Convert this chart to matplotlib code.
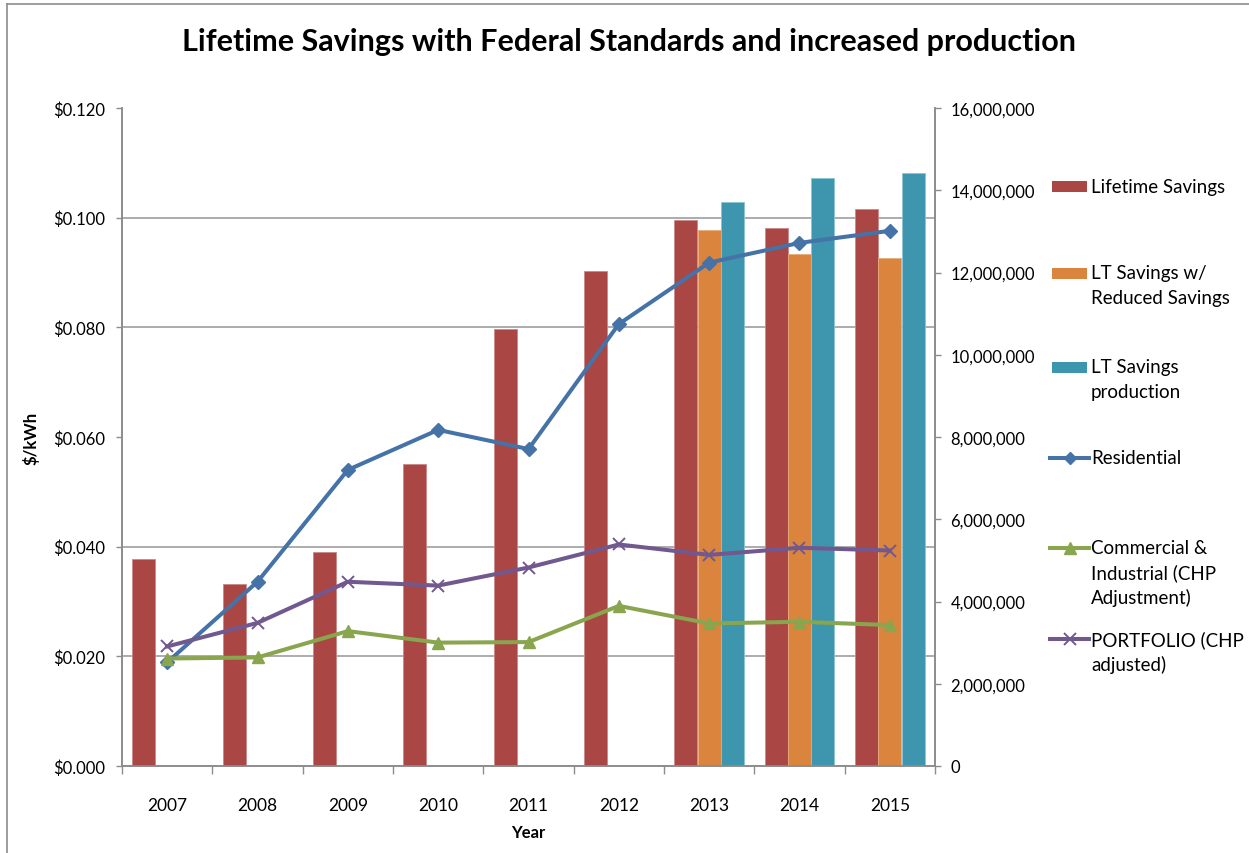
import numpy as np
import matplotlib
matplotlib.use("Agg")
import matplotlib.pyplot as plt
from matplotlib.ticker import FuncFormatter, FixedLocator, MultipleLocator
from matplotlib.lines import Line2D
from matplotlib.patches import Rectangle

# ---------------- data ----------------
years = ["2007", "2008", "2009", "2010", "2011", "2012", "2013", "2014", "2015"]
lifetime_savings = [5.03e6, 4.43e6, 5.20e6, 7.34e6, 10.63e6, 12.04e6, 13.27e6, 13.07e6, 13.54e6]
lt_reduced = [np.nan, np.nan, np.nan, np.nan, np.nan, np.nan, 13.03e6, 12.46e6, 12.35e6]
lt_production = [np.nan, np.nan, np.nan, np.nan, np.nan, np.nan, 13.71e6, 14.29e6, 14.42e6]
residential = [0.0189, 0.0336, 0.0540, 0.0613, 0.0578, 0.0806, 0.0918, 0.0954, 0.0976]
commercial = [0.0196, 0.0198, 0.0246, 0.0225, 0.0226, 0.0292, 0.0260, 0.0263, 0.0257]
portfolio = [0.0218, 0.0261, 0.0336, 0.0329, 0.0362, 0.0404, 0.0385, 0.0398, 0.0393]

C_RED = "#AA4643"
C_ORANGE = "#DB843D"
C_TEAL = "#3D96AE"
C_BLUE = "#4572A7"
C_GREEN = "#89A54E"
C_PURPLE = "#71588F"
GRAY = "#8c8c8c"

plt.rcParams["font.family"] = ["Lato", "DejaVu Sans"]

W, H = 1249, 854
fig = plt.figure(figsize=(W / 100, H / 100), dpi=100)

def fx(px):
    return px / W

def fy(py):
    return 1 - py / H

ax = fig.add_axes([fx(122), fy(767), fx(935) - fx(122), fy(109) - fy(767)])
ax2 = ax.twinx()

x = np.arange(len(years))
bw = 0.255
off = 0.257
ax.bar(x - off, lifetime_savings, bw, color=C_RED, edgecolor="#c98a88", linewidth=0.6, zorder=3)
ax.bar(x, lt_reduced, bw, color=C_ORANGE, edgecolor="#e8ad7c", linewidth=0.6, zorder=3)
ax.bar(x + off, lt_production, bw, color=C_TEAL, edgecolor="#8cc4d3", linewidth=0.6, zorder=3)

ax.set_ylim(0, 16e6)
ax.set_xlim(-0.5, len(years) - 0.5)
ax.yaxis.tick_right()
ax.yaxis.set_major_locator(MultipleLocator(2e6))
ax.yaxis.set_major_formatter(FuncFormatter(lambda v, p: f"{v:,.0f}"))
# gridlines aligned with the left-axis ticks
ax.yaxis.set_minor_locator(FixedLocator(np.linspace(0, 16e6, 7)))
ax.grid(axis="y", which="minor", color="#a6a6a6", linewidth=1.3, zorder=0)
ax.tick_params(axis="y", which="minor", length=0)
ax.tick_params(axis="y", which="major", direction="out", length=4, width=1,
               color=GRAY, labelsize=12, pad=7, labelcolor="black")

# x axis: ticks at category boundaries, labels at centres
ax.xaxis.set_major_locator(FixedLocator(np.arange(-0.5, len(years), 1.0)))
ax.xaxis.set_major_formatter(FuncFormatter(lambda v, p: ""))
ax.xaxis.set_minor_locator(FixedLocator(x))
ax.set_xticks(x, years, minor=True)
ax.tick_params(axis="x", which="major", direction="out", length=6, width=1, color=GRAY)
ax.tick_params(axis="x", which="minor", length=0, labelsize=12.5, pad=22)
ax.set_xlabel("Year", fontsize=12, fontweight="bold", labelpad=8)

for s in ["top"]:
    ax.spines[s].set_visible(False)
    ax2.spines[s].set_visible(False)
for s in ["left", "right", "bottom"]:
    ax.spines[s].set_color(GRAY)
    ax2.spines[s].set_color(GRAY)
    ax.spines[s].set_linewidth(1.2)
    ax2.spines[s].set_linewidth(1.2)

# lines on the $/kWh axis (placed on the left)
ax2.plot(x, residential, color=C_BLUE, lw=2.9, marker="D", ms=7.5, zorder=5, clip_on=False)
ax2.plot(x, commercial, color=C_GREEN, lw=2.9, marker="^", ms=9, zorder=5, clip_on=False)
ax2.plot(x, portfolio, color=C_PURPLE, lw=2.9, marker="x", ms=9, mew=1.4, zorder=5, clip_on=False)
ax2.set_ylim(0, 0.12)
ax2.yaxis.tick_left()
ax2.yaxis.set_label_position("left")
ax2.yaxis.set_major_locator(MultipleLocator(0.02))
ax2.yaxis.set_major_formatter(FuncFormatter(lambda v, p: f"${v:.3f}"))
ax2.tick_params(axis="y", direction="out", length=4, width=1, color=GRAY,
                labelsize=12, pad=8)
ax2.set_ylabel("$/kWh", fontsize=12, fontweight="bold", labelpad=10)

# title
fig.text(0.5 * (fx(177) + fx(1080)), fy(42), "Lifetime Savings with Federal Standards and increased production",
         ha="center", va="center", fontsize=22, fontweight="bold")

# legend (manual, Excel-like layout)
LFS = 13.5
def legend_text(lines, y0, dy=24.5):
    for i, t in enumerate(lines):
        fig.text(fx(1091), fy(y0 + i * dy), t, ha="left", va="center", fontsize=LFS)

def legend_patch(color, yc):
    fig.add_artist(Rectangle((fx(1052), fy(yc + 5.5)), fx(1087) - fx(1052), fy(yc - 5.5) - fy(yc + 5.5),
                             transform=fig.transFigure, facecolor=color, edgecolor="none"))

def legend_line(color, marker, yc, ms, mew=1.0):
    fig.add_artist(Line2D([fx(1050), fx(1089)], [fy(yc), fy(yc)], transform=fig.transFigure,
                          color=color, lw=2.9))
    fig.add_artist(Line2D([fx(1069.5)], [fy(yc)], transform=fig.transFigure,
                          color=color, marker=marker, ms=ms, mew=mew, lw=0))

legend_patch(C_RED, 187)
legend_text(["Lifetime Savings"], 187)
legend_patch(C_ORANGE, 274)
legend_text(["LT Savings w/", "Reduced Savings"], 274)
legend_patch(C_TEAL, 368)
legend_text(["LT Savings", "production"], 368)
legend_line(C_BLUE, "D", 459, 6.5)
legend_text(["Residential"], 459)
legend_line(C_GREEN, "^", 549, 8)
legend_text(["Commercial &", "Industrial (CHP", "Adjustment)"], 549)
legend_line(C_PURPLE, "x", 640, 8, 1.4)
legend_text(["PORTFOLIO (CHP", "adjusted)"], 640)

# outer chart border
fig.add_artist(Line2D([fx(7), fx(7)], [fy(5), 0], transform=fig.transFigure, color="#8c8c8c", lw=1.2))
fig.add_artist(Line2D([fx(7), 1], [fy(5), fy(5)], transform=fig.transFigure, color="#8c8c8c", lw=1.2))

fig.savefig("out.png", dpi=100)
